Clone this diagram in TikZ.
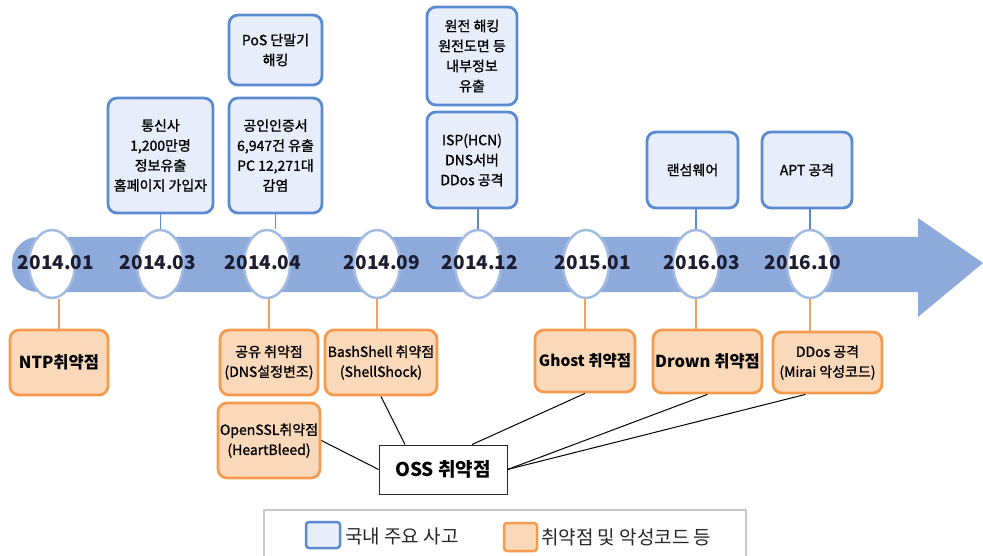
\documentclass[tikz,border=0pt]{standalone}
\usepackage{fontspec}
\setmainfont{Noto Sans CJK KR}
\newfontfamily\krsemi[FakeBold=1.2]{Noto Sans CJK KR}
\usetikzlibrary{shapes.geometric,calc}
\definecolor{arrowc}{HTML}{8EAADB}
\definecolor{ringc}{HTML}{A3BBE2}
\definecolor{bluebd}{HTML}{5A8AD0}
\definecolor{bluefill}{HTML}{E7EEF9}
\definecolor{orbd}{HTML}{F59A4E}
\definecolor{orfill}{HTML}{FAD8BA}
\definecolor{orline}{HTML}{F0A060}
\definecolor{datetxt}{HTML}{1C1C30}
\definecolor{legbd}{HTML}{C8C8C8}
\begin{document}
\begin{tikzpicture}[x=1pt,y=-1pt,
  topbox/.style={draw=bluebd, fill=bluefill, line width=2.8pt, rounded corners=9pt,
    inner sep=0pt, align=center, font=\krsemi\fontsize{14}{20}\selectfont},
  vulbox/.style={draw=orbd, fill=orfill, line width=2.8pt, rounded corners=9pt,
    inner sep=0pt, align=center},
  ossbox/.style={draw=black!85, fill=white, line width=0.9pt, inner sep=0pt,
    minimum width=128pt, minimum height=49pt, font=\fontsize{19}{19}\selectfont\bfseries},
  datec/.style={ellipse, draw=ringc, fill=white, line width=2.5pt, inner sep=0pt,
    minimum width=46pt, minimum height=68pt},
  datelbl/.style={inner sep=0pt, text=datetxt, font=\fontsize{19}{19}\selectfont\bfseries},
  bline/.style={draw=bluebd, line width=1.8pt},
  oline/.style={draw=orline, line width=1.8pt},
  kline/.style={draw=black, line width=1pt},
  legtxt/.style={inner sep=0pt, anchor=west, text=black!85, font=\fontsize{19}{19}\selectfont}
]
\useasboundingbox (0,0) rectangle (983,556);

% timeline arrow
\fill[arrowc] (918,237) -- (918,218) -- (983,263) -- (918,317) -- (918,292)
  [rounded corners=26pt] -- (12,292) -- (12,237) [sharp corners] -- cycle;

% date ellipses
\node[datec] (c1) at (52,264) {};
\node[datec] (c2) at (160,264) {};
\node[datec] (c3) at (267,264) {};
\node[datec] (c4) at (377,264) {};
\node[datec] (c5) at (478,264) {};
\node[datec] (c6) at (586,264) {};
\node[datec] (c7) at (696,264) {};
\node[datec] (c8) at (810,264) {};

\node[datelbl] (d1) at (56,263) {2014.01};
\node[datelbl] (d2) at (158,263) {2014.03};
\node[datelbl] (d3) at (263,263) {2014.04};
\node[datelbl] (d4) at (382,263) {2014.09};
\node[datelbl] (d5) at (480,263) {2014.12};
\node[datelbl] (d6) at (593,263) {2015.01};
\node[datelbl] (d7) at (702,263) {2016.03};
\node[datelbl] (d8) at (803,263) {2016.10};

% top incident boxes
\node[topbox, minimum width=105pt, minimum height=115pt] (tA) at (160.5,155.5)
  {통신사\\1,200만명\\정보유출\\홈페이지 가입자};
\node[topbox, minimum width=93pt, minimum height=70pt] (tB) at (275.5,50)
  {PoS 단말기\\해킹};
\node[topbox, minimum width=93pt, minimum height=115pt] (tC) at (275.5,155.5)
  {공인인증서\\6,947건 유출\\PC 12,271대\\감염};
\node[topbox, minimum width=90pt, minimum height=98pt] (tD) at (472,56)
  {원전 해킹\\원전도면 등\\내부정보\\유출};
\node[topbox, minimum width=90pt, minimum height=96pt] (tE) at (472,160)
  {ISP(HCN)\\DNS서버\\DDos 공격};
\node[topbox, minimum width=91pt, minimum height=76pt] (tF) at (692.5,170) {랜섬웨어};
\node[topbox, minimum width=90pt, minimum height=76pt] (tG) at (807,170) {APT 공격};

% vulnerability boxes
\node[vulbox, minimum width=98pt, minimum height=65pt, font=\fontsize{16.5}{20}\selectfont\bfseries]
  (b1) at (59,362.5) {NTP취약점};
\node[vulbox, minimum width=98pt, minimum height=65pt, font=\krsemi\fontsize{14}{20}\selectfont]
  (b3) at (269,362.5) {공유 취약점\\(DNS설정변조)};
\node[vulbox, minimum width=112pt, minimum height=65pt, font=\krsemi\fontsize{14}{20}\selectfont]
  (b4) at (381,362.5) {BashShell 취약점\\(ShellShock)};
\node[vulbox, minimum width=100pt, minimum height=62pt, font=\fontsize{15.5}{20}\selectfont\bfseries]
  (b6) at (585,361) {Ghost 취약점};
\node[vulbox, minimum width=109pt, minimum height=63pt, font=\fontsize{16.5}{20}\selectfont\bfseries]
  (b7) at (707.5,361.5) {Drown 취약점};
\node[vulbox, minimum width=109pt, minimum height=61pt, font=\krsemi\fontsize{14}{20}\selectfont]
  (b8) at (827.5,362.5) {DDos 공격\\(Mirai 악성코드)};
\node[vulbox, minimum width=102pt, minimum height=75pt, font=\krsemi\fontsize{14}{20}\selectfont]
  (b3b) at (269,440.5) {OpenSSL취약점\\(HeartBleed)};

\node[ossbox] (oss) at (443,469.5) {OSS 취약점};

% blue connectors
\draw[bline] (tA.south) -- (tA.south |- c2.north);
\draw[bline] (tC.south) -- (tC.south |- c3.north);
\draw[bline] (c5.north) -- (c5.north |- tE.south);
\draw[bline] (c7.north) -- (c7.north |- tF.south);
\draw[bline] (c8.north) -- (c8.north |- tG.south);

% orange connectors
\draw[oline] (b1.north) -- (b1.north |- c1.south);
\draw[oline] (b3.north) -- (b3.north |- c3.south);
\draw[oline] (c4.south) -- (c4.south |- b4.north);
\draw[oline] (b6.north) -- (b6.north |- c6.south);
\draw[oline] (c7.south) -- (c7.south |- b7.north);
\draw[oline] (c8.south) -- (c8.south |- b8.north);

% OSS connectors
\draw[kline] (b3b.east) -- (oss.west);
\draw[kline] (b4.south) -- ($(oss.north)+(-38,0)$);
\draw[kline] (b6.south) -- ($(oss.north)+(29,0)$);
\draw[kline] (b7.south) -- (oss.east);
\draw[kline] ($(b8.south)+(-22,0)$) -- (oss.east);

% legend
\node[draw=legbd, line width=1.2pt, fill=white, minimum width=482pt, minimum height=50pt, inner sep=0pt]
  (leg) at (505,535) {};
\node[draw=bluebd, fill=bluefill, line width=2.5pt, rounded corners=3pt, inner sep=0pt,
  minimum width=34pt, minimum height=26pt] (lgb) at (323,535) {};
\node[legtxt] (lgbt) at (345,536) {국내 주요 사고};
\node[draw=orbd, fill=orfill, line width=2.5pt, rounded corners=3pt, inner sep=0pt,
  minimum width=33pt, minimum height=28pt] (lgo) at (520.5,537) {};
\node[legtxt] (lgot) at (541,537) {취약점 및 악성코드 등};
\end{tikzpicture}
\end{document}
